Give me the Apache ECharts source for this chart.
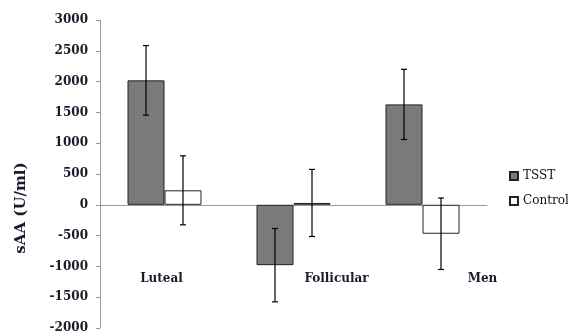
<!DOCTYPE html>
<html><head><meta charset="utf-8">
<script src="https://cdn.jsdelivr.net/npm/echarts@6/dist/echarts.min.js"></script>
<style>html,body{margin:0;padding:0;background:#fff}#c{width:568px;height:336px}</style>
</head><body><div id="c"></div>
<script>
var categories = ['Luteal', 'Follicular', 'Men'];
var tsstValues = [2020, -980, 1630];
var tsstErrors = [565, 595, 570];
var controlValues = [235, 30, -470];
var controlErrors = [560, 545, 580];
var yTicks = [-2000, -1500, -1000, -500, 0, 500, 1000, 1500, 2000, 2500, 3000];
var categoryLabelLevel = -1210;

var FONT = 'DejaVu Serif';
var TXT = '#1a1a2a';
var BAR_W = 37;
var labelShift = [-3, 43, 60];
var chart = echarts.init(document.getElementById('c'));

function errSeries(name, vals, errs, offset) {
  var data = vals.map(function (v, i) { return [i, v - errs[i], v + errs[i]]; });
  return {
    type: 'custom', name: name + ' err', silent: true, z: 5,
    data: data,
    renderItem: function (params, api) {
      var lo = api.coord([api.value(0), api.value(1)]);
      var hi = api.coord([api.value(0), api.value(2)]);
      var x = lo[0] + offset, cap = 3;
      var st = { stroke: '#000', lineWidth: 1.2 };
      return { type: 'group', children: [
        { type: 'line', shape: { x1: x, y1: lo[1], x2: x, y2: hi[1] }, style: st },
        { type: 'line', shape: { x1: x - cap, y1: lo[1], x2: x + cap, y2: lo[1] }, style: st },
        { type: 'line', shape: { x1: x - cap, y1: hi[1], x2: x + cap, y2: hi[1] }, style: st }
      ]};
    }
  };
}

chart.setOption({
  animation: false,
  grid: { left: 100, right: 81, top: 20, bottom: 8, containLabel: false, outerBoundsMode: 'none' },
  legend: {
    orient: 'vertical', left: 504, top: 165, itemGap: 13,
    itemWidth: 8, itemHeight: 8, icon: 'rect',
    textStyle: { fontFamily: FONT, fontSize: 12, color: '#111' },
    data: ['TSST', 'Control']
  },
  xAxis: {
    type: 'category', data: categories,
    axisLine: { onZero: true, lineStyle: { color: '#999', width: 1 } },
    axisTick: { show: false },
    axisLabel: { show: false },
    splitLine: { show: false }
  },
  yAxis: {
    type: 'value', min: yTicks[0], max: yTicks[yTicks.length - 1], interval: 500,
    name: 'sAA (U/ml)', nameLocation: 'middle', nameGap: 71,
    nameTextStyle: { fontFamily: FONT, fontWeight: 'bold', fontSize: 15, color: TXT, padding: [0, 68, 0, 0] },
    axisLine: { show: true, lineStyle: { color: '#999' } },
    axisTick: { show: true, length: 4, lineStyle: { color: '#999' } },
    axisLabel: { fontFamily: FONT, fontWeight: 'bold', fontSize: 12, color: TXT, margin: 12,
      formatter: function (v) { return String(v); } },
    splitLine: { show: false }
  },
  series: [
    { name: 'TSST', type: 'bar', data: tsstValues, barWidth: BAR_W, barGap: '0%',
      itemStyle: { color: '#7a7a7a', borderColor: '#222', borderWidth: 1 } },
    { name: 'Control', type: 'bar', data: controlValues, barWidth: BAR_W, barGap: '0%',
      itemStyle: { color: '#fff', borderColor: '#222', borderWidth: 1 } },
    errSeries('TSST', tsstValues, tsstErrors, -BAR_W / 2),
    errSeries('Control', controlValues, controlErrors, BAR_W / 2),
    {
      type: 'custom', name: 'catLabels', silent: true, z: 6,
      data: categories.map(function (c, i) { return [i, categoryLabelLevel]; }),
      renderItem: function (params, api) {
        var p = api.coord([api.value(0), api.value(1)]);
        return { type: 'text', x: p[0] + labelShift[params.dataIndex], y: p[1],
          style: { text: categories[params.dataIndex], fontFamily: FONT, fontWeight: 'bold', fontSize: 12,
            fill: TXT, align: 'center', verticalAlign: 'middle' } };
      }
    }
  ]
});
</script></body></html>
